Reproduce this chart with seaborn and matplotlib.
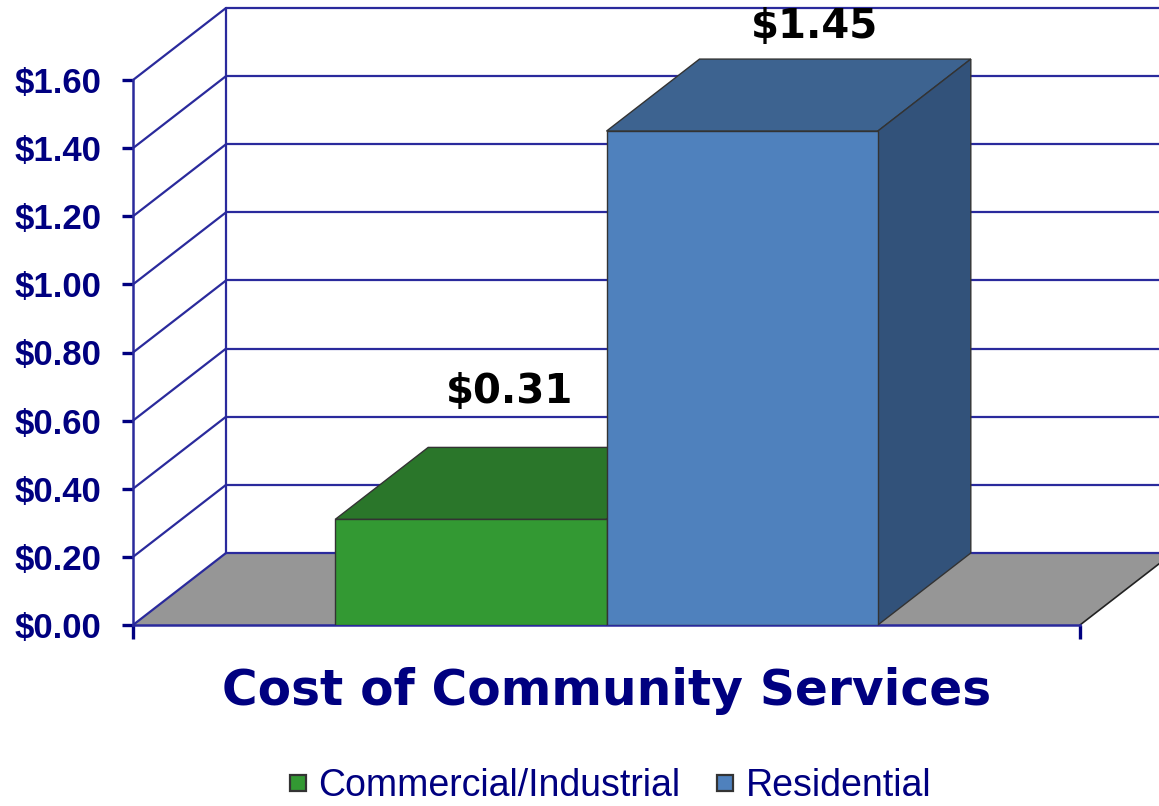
import matplotlib
matplotlib.use("Agg")
import matplotlib.pyplot as plt
from matplotlib.patches import Polygon
from matplotlib.lines import Line2D
import seaborn as sns
import pandas as pd

# ---- data ----
group = ["Cost of Community Services"]
series = ["Commercial/Industrial", "Residential"]
values = [0.31, 1.45]
y_ticks = [0.0, 0.2, 0.4, 0.6, 0.8, 1.0, 1.2, 1.4, 1.6]
title = "Cost of Community Services"

# ---- styles ----
front_colors = ["#339933", "#4f81bd"]
top_colors = ["#2a762a", "#3d6390"]
side_colors = ["#236323", "#32527a"]
navy = "#000080"
grid_color = "#2a2a9c"
floor_color = "#969696"
edge_color = "#333333"
label_offsets = [(39, 127), (72, 104)]   # pixels, value label placement

sns.set_style("white")
plt.rcParams["font.family"] = ["Liberation Sans", "DejaVu Sans"]

W, H = 1159, 806
fig = plt.figure(figsize=(W / 100, H / 100), dpi=100)
left_px, right_px, bottom_px, top_px = 133, 1080, 625, 80
ax = fig.add_axes([left_px / W, (H - bottom_px) / H,
                   (right_px - left_px) / W, (bottom_px - top_px) / H])

df = pd.DataFrame({"group": group * len(series), "series": series, "value": values})
sns.barplot(data=df, x="group", y="value", hue="series", hue_order=series,
            palette=front_colors, width=0.573, edgecolor=edge_color, linewidth=1,
            saturation=1, legend=False, ax=ax)
bars = [c[0] for c in ax.containers]

ax.set_xlim(-0.5, 0.5)
ax.set_ylim(0, y_ticks[-1])
x0, x1 = ax.get_xlim()

# depth offsets (data units)
DX = 93 / (right_px - left_px) * (x1 - x0)
DY = 72 / (bottom_px - top_px) * y_ticks[-1]

# floor
floor = Polygon([(x0, 0), (x1, 0), (x1 + DX, DY), (x0 + DX, DY)], closed=True,
                facecolor=floor_color, edgecolor="none", zorder=0.5, clip_on=False)
ax.add_patch(floor)
ax.plot([x1, x1 + DX], [0, DY], color="#222222", lw=1.2, zorder=0.6, clip_on=False)

# walls grid
for yv in y_ticks:
    ax.plot([x0 + DX, x1 + DX], [yv + DY, yv + DY], color=grid_color, lw=1.6,
            zorder=1, clip_on=False)
    ax.plot([x0, x0 + DX], [yv, yv + DY], color=grid_color, lw=1.6,
            zorder=1, clip_on=False)
ax.plot([x0 + DX, x0 + DX], [DY, y_ticks[-1] + DY], color=grid_color, lw=1.6,
        zorder=1, clip_on=False)

# 3D faces of bars
for i, bar in enumerate(bars):
    bx, bw, bh = bar.get_x(), bar.get_width(), bar.get_height()
    z = 3 + i
    bar.set_zorder(z + 0.2)
    top = Polygon([(bx, bh), (bx + bw, bh), (bx + bw + DX, bh + DY), (bx + DX, bh + DY)],
                  closed=True, facecolor=top_colors[i], edgecolor=edge_color, lw=1,
                  zorder=z, clip_on=False)
    side = Polygon([(bx + bw, 0), (bx + bw + DX, DY), (bx + bw + DX, bh + DY), (bx + bw, bh)],
                   closed=True, facecolor=side_colors[i], edgecolor=edge_color, lw=1,
                   zorder=z, clip_on=False)
    ax.add_patch(top)
    ax.add_patch(side)
    ax.annotate(f"${values[i]:.2f}", xy=(bx + bw / 2, bh), xytext=label_offsets[i],
                textcoords="offset pixels", ha="center", va="center",
                fontsize=29, fontweight="bold", family="DejaVu Sans", color="black",
                annotation_clip=False, zorder=10)

# axes styling
for s in ["top", "right"]:
    ax.spines[s].set_visible(False)
for s in ["left", "bottom"]:
    ax.spines[s].set_color(grid_color)
    ax.spines[s].set_linewidth(1.8)
    ax.spines[s].set_zorder(2)
ax.set_yticks(y_ticks)
ax.set_yticklabels([f"${v:.2f}" for v in y_ticks])
ax.set_xticks([x0, x1])
ax.set_xticklabels(["", ""])
ax.tick_params(axis="y", left=True, direction="out", length=8, width=2.4, color=navy,
               pad=15, labelsize=25, labelcolor=navy)
ax.tick_params(axis="x", bottom=True, direction="out", length=10, width=2.4, color=navy,
               pad=0)
for t in ax.get_yticklabels():
    t.set_fontweight("bold")
ax.set_ylabel("")
ax.set_xlabel(title, fontsize=35, fontweight="bold", color=navy,
              family="DejaVu Sans", labelpad=20)
ax.grid(False)
ax.set_facecolor("none")

handles = [Line2D([], [], marker="s", linestyle="none", markersize=12,
                  markerfacecolor=front_colors[i], markeredgecolor=edge_color,
                  markeredgewidth=1.6) for i in range(len(series))]
leg = ax.legend(handles=handles, labels=series, loc="center",
                bbox_to_anchor=(610 / W, (H - 786) / H), bbox_transform=fig.transFigure,
                ncol=2, frameon=False, fontsize=27, handlelength=0.5,
                handletextpad=0.3, columnspacing=0.95, borderaxespad=0)
for t in leg.get_texts():
    t.set_color(navy)

fig.savefig("out.png", dpi=100, facecolor="white")
